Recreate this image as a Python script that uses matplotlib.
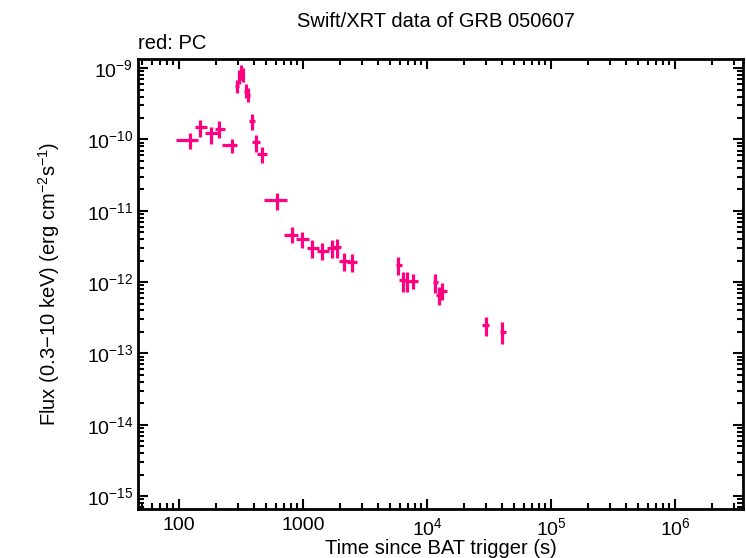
import matplotlib
matplotlib.use("Agg")
import matplotlib.pyplot as plt
from matplotlib.ticker import LogLocator, NullFormatter

plt.rcParams['font.family'] = ['Liberation Sans', 'DejaVu Sans']
plt.rcParams['mathtext.default'] = 'regular'

# Swift/XRT PC mode light curve, GRB 050607
t = [122.6, 148.5, 182, 211, 267, 294, 307, 316, 328, 344, 363, 385, 418, 464,
     621, 811, 986, 1189, 1432, 1722, 1892, 2153, 2472,
     5870, 6370, 6930, 7760, 11600, 12560, 13280, 29900, 40500]
t_lo = [94.5, 134.6, 162, 195, 223, 285, 298, 308, 320, 334, 352, 367, 390, 428,
        484, 706, 879, 1071, 1303, 1570, 1754, 1950, 2275,
        5625, 5990, 6650, 7290, 11100, 11760, 12740, 27900, 38800]
t_hi = [141.6, 167.2, 205, 235, 292, 303, 316, 325, 337, 354, 374, 410, 450, 509,
        739, 916, 1117, 1346, 1622, 1892, 2014, 2393, 2711,
        6250, 6860, 7400, 8510, 12300, 13520, 14420, 31800, 43400]
flux = [9.7e-11, 1.51e-10, 1.22e-10, 1.40e-10, 8.43e-11, 5.6e-10, 7.48e-10, 8.79e-10,
        7.98e-10, 4.77e-10, 4.19e-10, 1.81e-10, 9.3e-11, 6.25e-11,
        1.42e-11, 4.58e-12, 4.03e-12, 2.99e-12, 2.74e-12, 3.04e-12, 3.14e-12, 2.0e-12, 1.9e-12,
        1.74e-12, 1.06e-12, 1.02e-12, 1.05e-12, 9.97e-13, 6.62e-13, 7.53e-13, 2.52e-13, 1.99e-13]
flux_lo = [7.26e-11, 1.09e-10, 8.6e-11, 1.06e-10, 6.38e-11, 4.5e-10, 6.0e-10, 6.9e-10,
           6.4e-10, 3.8e-10, 3.35e-10, 1.36e-10, 6.73e-11, 4.62e-11,
           1.03e-11, 3.51e-12, 2.99e-12, 2.16e-12, 2.05e-12, 2.16e-12, 2.2e-12, 1.45e-12, 1.4e-12,
           1.26e-12, 7.36e-13, 7.3e-13, 7.9e-13, 7.13e-13, 4.8e-13, 5.7e-13, 1.78e-13, 1.36e-13]
flux_hi = [1.22e-10, 1.87e-10, 1.48e-10, 1.81e-10, 1.03e-10, 6.9e-10, 9.3e-10, 1.12e-09,
           1.0e-09, 5.9e-10, 5.2e-10, 2.27e-10, 1.15e-10, 7.9e-11,
           1.76e-11, 5.87e-12, 5.0e-12, 3.9e-12, 3.51e-12, 3.9e-12, 4.0e-12, 2.6e-12, 2.45e-12,
           2.27e-12, 1.38e-12, 1.38e-12, 1.3e-12, 1.30e-12, 8.6e-13, 9.6e-13, 3.29e-13, 2.74e-13]

xticks = [100, 1000, 1e4, 1e5, 1e6]
xticklabels = ['100', '1000', '$10^{4}$', '$10^{5}$', '$10^{6}$']
yticks = [1e-15, 1e-14, 1e-13, 1e-12, 1e-11, 1e-10, 1e-9]
yticklabels = ['$10^{-15}$', '$10^{-14}$', '$10^{-13}$', '$10^{-12}$',
               '$10^{-11}$', '$10^{-10}$', '$10^{-9}$']

xerr = [[a - b for a, b in zip(t, t_lo)], [b - a for a, b in zip(t, t_hi)]]
yerr = [[a - b for a, b in zip(flux, flux_lo)], [b - a for a, b in zip(flux, flux_hi)]]

fig = plt.figure(figsize=(7.46, 5.58), dpi=100)
ax = fig.add_axes([0.185, 0.088, 0.811, 0.806])

ax.errorbar(t, flux, xerr=xerr, yerr=yerr, fmt='none', ecolor='#ff0080',
            elinewidth=2.3, capsize=0)

ax.set_xscale('log')
ax.set_yscale('log')
ax.set_xlim(46.7, 3.53e6)
ax.set_ylim(10**-15.18, 10**-8.874)

ax.set_xticks(xticks)
ax.set_xticklabels(xticklabels)
ax.set_yticks(yticks)
ax.set_yticklabels(yticklabels)
ax.xaxis.set_minor_locator(LogLocator(base=10, subs=range(2, 10), numticks=20))
ax.yaxis.set_minor_locator(LogLocator(base=10, subs=range(2, 10), numticks=20))
ax.xaxis.set_minor_formatter(NullFormatter())
ax.yaxis.set_minor_formatter(NullFormatter())

ax.tick_params(which='both', direction='in', top=True, right=True, width=1.5,
               labelsize=14)
ax.tick_params(which='major', length=7)
ax.tick_params(which='minor', length=4)
ax.tick_params(axis='x', pad=6)
for s in ax.spines.values():
    s.set_linewidth(2)

ax.set_xlabel('Time since BAT trigger (s)', fontsize=14.5, labelpad=0)
ax.set_ylabel('Flux (0.3\u221210 keV) (erg cm$^{-2}$s$^{-1}$)', fontsize=14.5, labelpad=18)
fig.text(0.585, 0.962, 'Swift/XRT data of GRB 050607', ha='center', va='center', fontsize=14.5)
fig.text(0.185, 0.922, 'red: PC', ha='left', va='center', fontsize=14.5)

fig.savefig('out.png', dpi=100)
